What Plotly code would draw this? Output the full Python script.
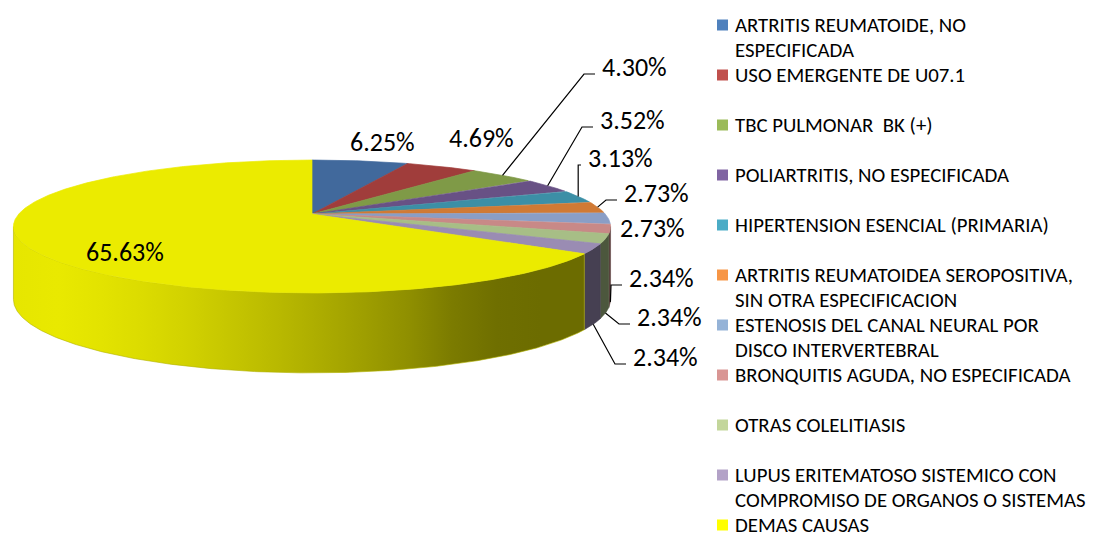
import numpy as np
import plotly.graph_objects as go

# ---------------- data ----------------
CATEGORIES = [
    "ARTRITIS REUMATOIDE, NO<br>ESPECIFICADA",
    "USO EMERGENTE DE U07.1",
    "TBC PULMONAR\u00a0 BK (+)",
    "POLIARTRITIS, NO ESPECIFICADA",
    "HIPERTENSION ESENCIAL (PRIMARIA)",
    "ARTRITIS REUMATOIDEA SEROPOSITIVA,<br>SIN OTRA ESPECIFICACION",
    "ESTENOSIS DEL CANAL NEURAL POR<br>DISCO INTERVERTEBRAL",
    "BRONQUITIS AGUDA, NO ESPECIFICADA",
    "OTRAS COLELITIASIS",
    "LUPUS ERITEMATOSO SISTEMICO CON<br>COMPROMISO DE ORGANOS O SISTEMAS",
    "DEMAS CAUSAS",
]
VALUES = [6.25, 4.69, 4.30, 3.52, 3.13, 2.73, 2.73, 2.34, 2.34, 2.34, 65.63]
PCT_LABELS = [f"{v:.2f}%" for v in VALUES]

# ---------------- styles ----------------
LEGEND_COLORS = ["#4F81BD", "#C0504D", "#9BBB59", "#8064A2", "#4BACC6", "#F79646",
                 "#95B3D7", "#D99694", "#C3D69B", "#B3A2C7", "#FFFF00"]
TOP_COLORS = ["#41699C", "#A03D3B", "#7F9A47", "#685185", "#3C8FA6", "#D07A35",
              "#8A9EC6", "#C88987", "#A7BE86", "#9A8CB3", "#EBEB00"]
# label text (left x, middle y) in pixels, and whether a leader line is drawn
LABEL_POS = [(348, 142), (447, 138), (600, 67), (598, 120), (586, 158), (622, 193),
             (618, 228), (627, 278), (635, 317), (631, 357), (84, 252)]
LEADER = [False, False, True, True, True, True, False, True, True, True, False]

FONT = "Calibri, Carlito, Lato, sans-serif"
W, H = 1096, 534

# pseudo-3D projection of the pie (pixels)
CX, CY = 312.0, 214.0
A, B, D = 1560.0, 341.0, 5.32
HH, D2 = 675.0, 9.44
TH_A = np.degrees(np.arccos(-1.0 / D))
TH_B = 360.0 - TH_A

SHADE_X = [0, 13, 45, 130, 200, 300, 400, 470, 520, 1096]
SHADE_F = [0.97, 0.98, 1.0, 0.95, 0.88, 0.76, 0.63, 0.49, 0.46, 0.46]


def proj(theta_deg, r=1.0, depth=0.0):
    t = np.radians(theta_deg)
    u = r * np.sin(t)
    v = r * np.cos(t)
    x = CX + A * u / (D + v)
    y = CY - B * v / (D + v) + depth * HH / (D2 + v)
    return x, y


def hex_rgb(h):
    h = h.lstrip("#")
    return [int(h[i:i + 2], 16) for i in (0, 2, 4)]


def shade(hexc, f):
    r, g, b = hex_rgb(hexc)
    return "rgb(%d,%d,%d)" % (min(255, r * f), min(255, g * f), min(255, b * f))


fig = go.Figure()

total = sum(VALUES)
bounds = np.concatenate([[0], np.cumsum(VALUES)]) / total * 360.0

# ---- side faces ----
for i, col in enumerate(TOP_COLORS):
    a0, a1 = max(bounds[i], TH_A), min(bounds[i + 1], TH_B)
    if a1 <= a0:
        continue
    n = max(4, int((a1 - a0) * 2))
    th = np.linspace(a0, a1, n)
    xt, yt = proj(th)
    xb, yb = proj(th[::-1], depth=1.0)
    xs = np.concatenate([xt, xb, xt[:1]])
    ys = np.concatenate([yt, yb, yt[:1]])
    xmin, xmax = float(xs.min()), float(xs.max())
    samp = np.linspace(xmin, xmax, 14)
    cs = [[k / 13.0, shade(col, np.interp(sx, SHADE_X, SHADE_F))] for k, sx in enumerate(samp)]
    mid_col = shade(col, np.interp((xmin + xmax) / 2, SHADE_X, SHADE_F))
    fig.add_trace(go.Scatter(
        x=xs, y=ys, mode="lines", fill="toself",
        fillcolor=mid_col,
        fillgradient=dict(type="horizontal", colorscale=cs, start=xmin, stop=xmax),
        line=dict(color=mid_col, width=0.6),
        hoverinfo="skip", showlegend=False))

# ---- top faces ----
for i, col in enumerate(TOP_COLORS):
    a0, a1 = bounds[i], bounds[i + 1]
    n = max(6, int((a1 - a0) * 2))
    th = np.linspace(a0, a1, n)
    xt, yt = proj(th)
    xs = np.concatenate([[CX], xt, [CX]])
    ys = np.concatenate([[CY], yt, [CY]])
    fig.add_trace(go.Scatter(
        x=xs, y=ys, mode="lines", fill="toself", fillcolor=col,
        line=dict(color=col, width=0.7),
        name=CATEGORIES[i].replace("<br>", " "),
        hovertemplate="%{fullData.name}<br>" + PCT_LABELS[i] + "<extra></extra>",
        showlegend=False))

# ---- data labels and leader lines ----
annotations = []
for i, txt in enumerate(PCT_LABELS):
    lx, ly = LABEL_POS[i]
    annotations.append(dict(
        x=lx, y=ly, xref="x", yref="y", text=txt, showarrow=False,
        xanchor="left", yanchor="middle",
        font=dict(family=FONT, size=26, color="#000000")))
    if LEADER[i]:
        mid = (bounds[i] + bounds[i + 1]) / 2
        dep = 1.0 if TH_A <= mid <= TH_B else 0.0
        sx, sy = proj(mid, depth=dep)
        ex, ey = lx - 5, ly + 7
        elx = max(sx, ex - 11)
        fig.add_trace(go.Scatter(
            x=[sx, elx, ex], y=[sy, ey, ey], mode="lines",
            line=dict(color="#000000", width=1.2),
            hoverinfo="skip", showlegend=False))

# ---- legend ----
shapes = []
LEG_X, LEG_Y0, LEG_STEP, LINE_STEP = 717, 25, 50.0, 25
for i, name in enumerate(CATEGORIES):
    y0 = LEG_Y0 + i * LEG_STEP
    shapes.append(dict(type="rect", xref="x", yref="y",
                       x0=LEG_X, x1=LEG_X + 11, y0=y0 - 5.5, y1=y0 + 5.5,
                       fillcolor=LEGEND_COLORS[i], line=dict(width=0)))
    for j, line in enumerate(name.split("<br>")):
        annotations.append(dict(
            x=LEG_X + 16, y=y0 + j * LINE_STEP, xref="x", yref="y", text=line,
            showarrow=False, xanchor="left", yanchor="middle",
            font=dict(family=FONT, size=20.8, color="#000000")))

fig.update_layout(
    width=W, height=H,
    margin=dict(l=0, r=0, t=0, b=0),
    paper_bgcolor="white", plot_bgcolor="white",
    xaxis=dict(range=[0, W], visible=False, fixedrange=True),
    yaxis=dict(range=[H, 0], visible=False, fixedrange=True),
    annotations=annotations, shapes=shapes,
    showlegend=False,
)

fig.write_html("out.html", config={"displayModeBar": False},
               post_script="document.body.style.margin='0';")
